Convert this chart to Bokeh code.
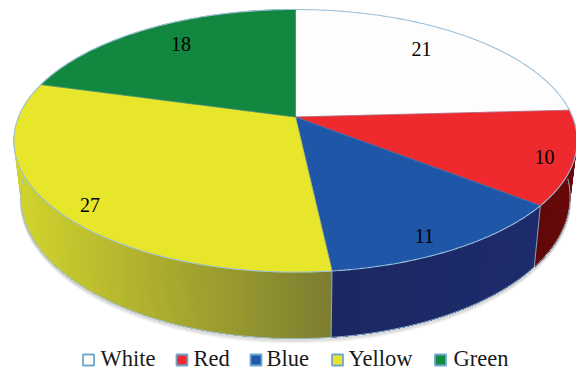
import numpy as np
from bokeh.core.properties import value
from bokeh.embed import file_html
from bokeh.models import Range1d
from bokeh.plotting import figure
from bokeh.resources import INLINE

# Slices, clockwise from twelve o'clock
names = ["White", "Red", "Blue", "Yellow", "Green"]
counts = [21, 10, 11, 27, 18]
top_colors = ["#fdfdfd", "#ee2a2e", "#1f56a8", "#e8e62a", "#12873f"]
wall_left = ["#fdfdfd", "#5f0808", "#1c2862", "#d2d42e", "#0c5a2a"]
wall_right = ["#fdfdfd", "#6a0a0a", "#1e2b6c", "#7d7e30", "#0c5a2a"]

# Where each count sits along its slice's radius, and a nudge in pixels
label_radius = [0.7, 0.9, 0.9, 0.9, 0.7]
label_dx = [4, -1, -12, 7, -8]
label_dy = [-9, 4, 2, 5, -9]

# Legend swatch centres and the left edge of each legend word
legend_swatch_x = [88, 181.5, 255.5, 337, 440]
legend_text_x = [100, 193, 266, 348, 453]
SWATCH_Y = 359.5
LEGEND_TEXT_Y = 358

# Perspective disc: pixel centre, half axes, foreshortening, wall height
CX, CY = 295.0, 116.5
RX, RY = 277.0, 127.0
K = 0.181
DEPTH = 54.5
BOTTOM_SHRINK = 0.975
RIM = "#9cc0da"


def project(theta_deg, r=1.0):
    t = np.radians(theta_deg)
    u, v = r * np.sin(t), r * np.cos(t)
    w = 1 + K * v
    return CX + RX * u / w, CY - RY * v / w


def project_bottom(theta_deg):
    t = np.radians(theta_deg)
    x, y = project(theta_deg)
    return CX + (x - CX) * BOTTOM_SHRINK, y + DEPTH / (1 + K * np.cos(t))


def mix(a, b, f):
    ca = [int(a[i:i + 2], 16) for i in (1, 3, 5)]
    cb = [int(b[i:i + 2], 16) for i in (1, 3, 5)]
    return "#%02x%02x%02x" % tuple(round(p + (q - p) * f) for p, q in zip(ca, cb))


total = sum(counts)
edges = np.concatenate([[0], np.cumsum(counts)]) * 360.0 / total
VISIBLE_FROM, VISIBLE_TO = 97.0, 265.0

p = figure(width=576, height=370, output_backend="svg", toolbar_location=None,
           x_range=Range1d(0, 576), y_range=Range1d(370, 0),
           min_border=0, outline_line_color=None)
p.axis.visible = False
p.grid.visible = False
p.background_fill_color = "white"
p.border_fill_color = "white"

# Soft shadow under the lower rim
shadow_angles = np.linspace(VISIBLE_FROM - 4, VISIBLE_TO + 4, 160)
sx, sy = project_bottom(shadow_angles)
for offset, alpha in [(4, 0.05), (3, 0.07), (2, 0.10), (1, 0.14)]:
    p.line(sx, sy + offset, line_color="#505050", line_alpha=alpha, line_width=2)

# Outer wall: each band runs to the far end of its slice and the next one
# paints over it, which shades the wall without seams between bands
xs_wall, ys_wall, wall_fill = [], [], []
for i in range(len(counts)):
    a0 = max(edges[i], VISIBLE_FROM)
    a1 = min(edges[i + 1], VISIBLE_TO)
    if a1 <= a0:
        continue
    steps = np.linspace(a0, a1, max(int((a1 - a0) * 1.5), 2) + 1)
    x_start, _ = project(a1)
    x_end, _ = project(a0)
    for s0 in steps[:-1]:
        arc = np.linspace(s0, a1, 40)
        tx, ty = project(arc)
        bx, by = project_bottom(arc[::-1])
        xs_wall.append(np.r_[tx, bx])
        ys_wall.append(np.r_[ty, by])
        frac = (float(project(s0)[0]) - x_start) / max(x_end - x_start, 1.0)
        wall_fill.append(mix(wall_left[i], wall_right[i], frac))
p.patches(xs_wall, ys_wall, fill_color=wall_fill, line_color=None)

# Light edges along the bottom of the wall and down the slice joints
p.line(sx, sy, line_color=RIM, line_width=1, line_alpha=0.9)
for a in edges[1:-1]:
    if VISIBLE_FROM < a < VISIBLE_TO:
        x0, y0 = project(a)
        x1, y1 = project_bottom(a)
        p.line([x0, x1], [y0, y1], line_color=RIM, line_width=1, line_alpha=0.8)

# Top face
for i in range(len(counts)):
    arc = np.linspace(edges[i], edges[i + 1], 90)
    ax, ay = project(arc)
    p.patch(np.r_[CX, ax], np.r_[CY, ay], fill_color=top_colors[i],
            line_color=top_colors[i], line_width=0.6)
    p.line(ax, ay, line_color=RIM, line_width=1.1)

# Faint joints between the slices on the top face
for a in edges[1:-1]:
    x1, y1 = project(a)
    p.line([CX, x1], [CY, y1], line_color="#6f8fb8", line_width=0.8, line_alpha=0.5)

# Counts on the slices
mid = (edges[:-1] + edges[1:]) / 2
lx, ly = [], []
for m, r, dx, dy in zip(mid, label_radius, label_dx, label_dy):
    x, y = project(m, r)
    lx.append(x + dx)
    ly.append(y + dy)
p.text(lx, ly, text=[str(c) for c in counts], text_font=value("Liberation Serif"),
       text_font_size="20px", text_color="#000000", text_align="center",
       text_baseline="middle")

# Legend row
p.scatter(legend_swatch_x, [SWATCH_Y] * len(names), marker="square", size=11,
          fill_color=top_colors, line_color="#6fa8cf", line_width=1.8)
p.text(legend_text_x, [LEGEND_TEXT_Y] * len(names), text=names,
       text_font=value("Liberation Serif"), text_font_size="22.5px",
       text_color="#1a1a1a", text_align="left", text_baseline="middle")

open("out.html", "w").write(file_html(p, INLINE))
